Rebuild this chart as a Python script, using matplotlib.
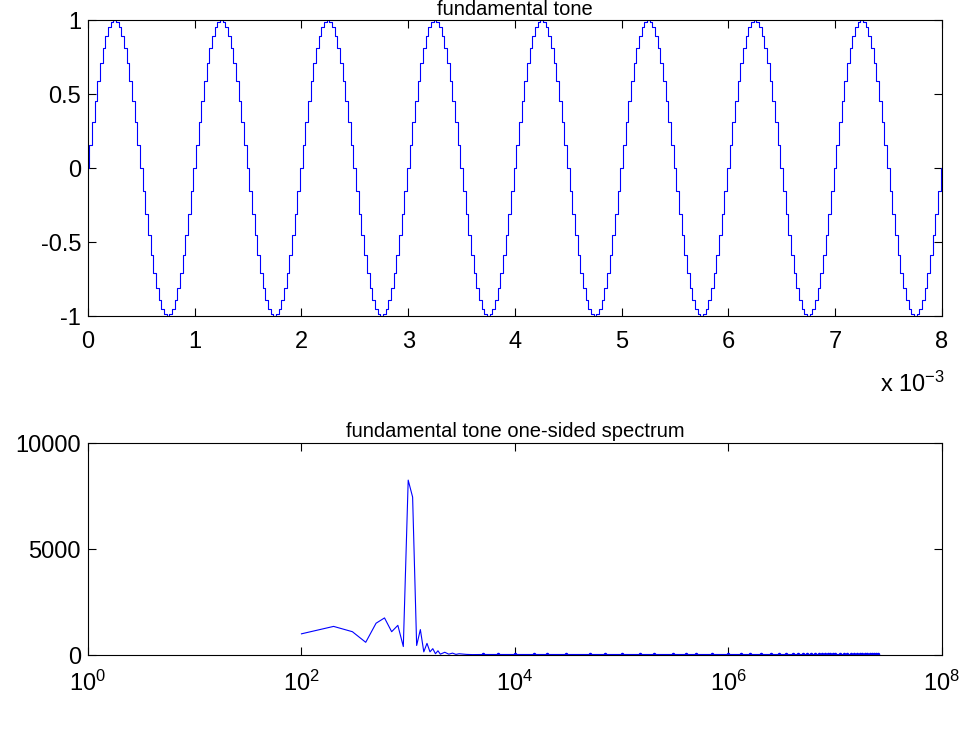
import numpy as np
import matplotlib
matplotlib.use("Agg")
import matplotlib.pyplot as plt

plt.rcParams['font.family'] = ['Liberation Sans', 'DejaVu Sans']
plt.rcParams['mathtext.default'] = 'regular'

sample_step_ms = 0.025
n_periods = 8
cycle = [0.0, 0.156, 0.309, 0.454, 0.588, 0.707, 0.809, 0.891, 0.951, 0.988,
         1.0, 0.988, 0.951, 0.891, 0.809, 0.707, 0.588, 0.454, 0.309, 0.156,
         0.0, -0.156, -0.309, -0.454, -0.588, -0.707, -0.809, -0.891, -0.951, -0.988,
         -1.0, -0.988, -0.951, -0.891, -0.809, -0.707, -0.588, -0.454, -0.309, -0.156]

# bottom: one-sided spectrum, low part (Hz, magnitude)
spec_freq = [100, 200, 300, 400, 500, 600, 700, 800, 900, 1000, 1100, 1200,
             1300, 1400, 1500, 1600, 1700, 1800, 1900, 2000, 2200, 2400, 2600,
             2800, 3000, 3500, 4000]
spec_mag = [1000, 1350, 1100, 600, 1500, 1750, 1100, 1400, 400, 8250, 7450, 450,
            1200, 150, 550, 150, 300, 60, 200, 40, 130, 40, 90, 30, 60, 30, 20]
# near-zero tail out to ~2.5e7 Hz
tail_freq = [5e3, 7e3, 1e4, 1.5e4, 2e4, 3e4, 5e4, 7e4, 1e5, 1.5e5, 2e5, 3e5,
             4e5, 5e5, 7e5, 1e6, 1.3e6, 1.6e6, 2e6, 2.5e6, 3e6, 3.5e6, 4e6,
             4.5e6, 5e6, 5.5e6, 6e6, 6.5e6, 7e6, 7.5e6, 8e6, 8.5e6, 9e6, 9.5e6,
             1e7, 1.1e7, 1.2e7, 1.3e7, 1.4e7, 1.5e7, 1.6e7, 1.7e7, 1.8e7, 1.9e7,
             2e7, 2.1e7, 2.2e7, 2.3e7, 2.4e7, 2.5e7]
tail_mag = [25] * len(tail_freq)

y = np.tile(cycle, n_periods)
y = np.append(y, 0.0)
t = np.arange(len(y)) * sample_step_ms * 1e-3

fig = plt.figure(figsize=(9.67, 7.51), dpi=100)
ax1 = fig.add_axes([0.091, 0.5792, 0.883, 0.394])
ax2 = fig.add_axes([0.091, 0.1278, 0.883, 0.2823])

ax1.plot(t, y, color='blue', lw=0.8, drawstyle='steps-mid')
ax1.set_xlim(0, 8e-3)
ax1.set_ylim(-1, 1)
ax1.set_xticks(np.arange(9) * 1e-3)
ax1.set_xticklabels([str(i) for i in range(9)])
ax1.set_yticks([-1, -0.5, 0, 0.5, 1])
ax1.set_yticklabels(['-1', '-0.5', '0', '0.5', '1'])
ax1.set_title('fundamental tone', fontsize=14.5, pad=4)
fig.text(0.977, 1 - 392 / 751, r'x 10$^{-3}$', ha='right', va='baseline', fontsize=17)

f_all = spec_freq + tail_freq
m_all = spec_mag + tail_mag
ax2.plot(f_all, m_all, color='blue', lw=0.8)
ax2.plot(tail_freq, tail_mag, '.', color='blue', ms=3)
ax2.set_xscale('log')
ax2.set_xlim(1, 1e8)
ax2.set_ylim(0, 10000)
ax2.set_xticks([1, 1e2, 1e4, 1e6, 1e8])
ax2.set_xticklabels([r'$10^{%d}$' % p for p in (0, 2, 4, 6, 8)])
ax2.minorticks_off()
ax2.set_yticks([0, 5000, 10000])
ax2.set_yticklabels(['0', '5000', '10000'])
ax2.set_title('fundamental tone one-sided spectrum', fontsize=14.5, pad=4)

for ax in (ax1, ax2):
    ax.tick_params(direction='in', top=True, right=True, length=6, labelsize=17)
    ax.tick_params(axis='x', pad=11)
    ax.tick_params(axis='y', pad=5)
    for s in ax.spines.values():
        s.set_linewidth(0.8)

fig.savefig('out.png', dpi=100)
